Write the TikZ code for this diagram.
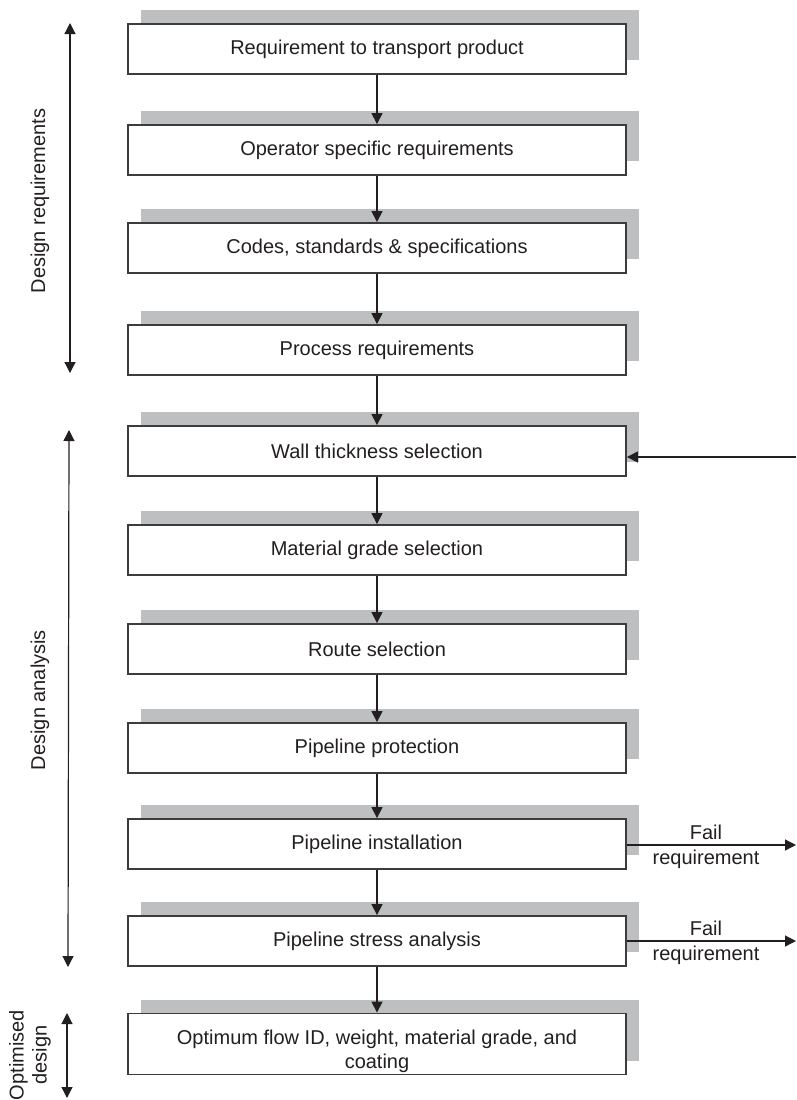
\documentclass[tikz,border=0pt]{standalone}
\usepackage{fontspec}
\setmainfont{Liberation Sans}
\usetikzlibrary{arrows.meta,shadows}
\definecolor{shadowgray}{HTML}{BEBFC1}
\definecolor{boxline}{HTML}{3C3C3C}
\definecolor{ink}{HTML}{231F20}
\begin{document}
\begin{tikzpicture}[x=1pt,y=-1pt,
  box/.style={draw=boxline, line width=1.8pt, fill=white, minimum width=498pt, minimum height=50pt,
    inner sep=0pt, align=center, text=ink, font=\fontsize{20}{23}\selectfont,
    drop shadow={shadow xshift=13pt, shadow yshift=14pt, fill=shadowgray, opacity=1}},
  conn/.style={draw=ink, line width=1.2pt, -{Triangle[length=11pt,width=11pt]}},
  both/.style={draw=ink, line width=1.2pt, {Triangle[length=11pt,width=11pt]}-{Triangle[length=11pt,width=11pt]}},
  lbl/.style={text=ink, font=\fontsize{20}{23}\selectfont, inner sep=0pt, align=center}
]
\useasboundingbox (0,0) rectangle (796,1100);
\fill[white] (0,0) rectangle (796,1100);

\node[box] (b1) at (377,49) {Requirement to transport product};
\node[box] (b2) at (377,150) {Operator specific requirements};
\node[box] (b3) at (377,248) {Codes, standards \& specifications};
\node[box] (b4) at (377,350) {Process requirements};
\node[box] (b5) at (377,451) {Wall thickness selection};
\node[box] (b6) at (377,550) {Material grade selection};
\node[box] (b7) at (377,649) {Route selection};
\node[box] (b8) at (377,748) {Pipeline protection};
\node[box] (b9) at (377,844) {Pipeline installation};
\node[box] (b10) at (377,941) {Pipeline stress analysis};
\node[box, minimum height=61pt, font=\fontsize{20}{24}\selectfont] (b11) at (377,1044)
  {\rule{0pt}{29pt}Optimum flow ID, weight, material grade, and\\coating};

\foreach \a/\b in {b1/b2,b2/b3,b3/b4,b4/b5,b5/b6,b6/b7,b7/b8,b8/b9,b9/b10,b10/b11}
  \draw[conn] (\a) -- (\b);

% feedback into wall thickness selection
\coordinate (in5) at (796,457);
\draw[conn] (in5) -- (in5 -| b5.east);

% fail requirement exits
\coordinate (f9) at (796,845);
\coordinate (f10) at (796,941);
\draw[conn] (b9.east |- f9) -- (f9);
\draw[conn] (b10.east |- f10) -- (f10);
\node[lbl, anchor=base] (fail9) at (706,839) {Fail};
\node[lbl, anchor=base] (req9) at (706,864) {requirement};
\node[lbl, anchor=base] (fail10) at (706,935) {Fail};
\node[lbl, anchor=base] (req10) at (706,960) {requirement};

% left side ranges
\coordinate (dr1) at (70,23);
\coordinate (dr2) at (70,373);
\draw[both] (dr1) -- (dr2);
\node[lbl, rotate=90] (drl) at (40,201) {Design requirements};

\coordinate (da1) at (69,430);
\coordinate (da2) at (68,967);
\draw[both] (da1) -- (da2);
\node[lbl, rotate=90] (dal) at (40,700) {Design analysis};

\coordinate (od1) at (67,1013);
\coordinate (od2) at (67,1098);
\draw[both] (od1) -- (od2);
\node[lbl, rotate=90] (odl) at (30,1055) {Optimised\\design};
\end{tikzpicture}
\end{document}
